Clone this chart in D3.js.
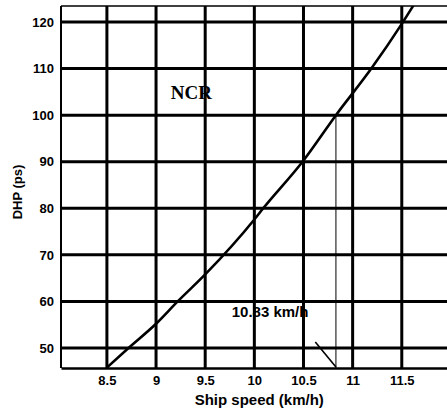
<!DOCTYPE html>
<html>
<head>
<meta charset="utf-8">
<script src="https://cdn.jsdelivr.net/npm/d3@7"></script>
<style>
  body { margin: 0; background: #fff; }
  svg { display: block; }
  .tick text { font-family: Arial, "Liberation Sans", sans-serif; font-weight: bold; font-size: 13px; fill: #000; }
</style>
</head>
<body>
<div id="chart"></div>
<script>
// values
var speed = [8.5, 8.72, 9.0, 9.22, 9.5, 10.0, 10.09, 10.49, 10.83, 11.19, 11.5, 11.62];
var dhp   = [45.8, 50, 55.2, 60, 65.8, 77.6, 80, 90, 100, 110, 119.6, 123.6];
var xTicks = [8.5, 9, 9.5, 10, 10.5, 11, 11.5];
var yTicks = [50, 60, 70, 80, 90, 100, 110, 120];
var markSpeed = 10.83, markDhp = 100;
var markLabel = '10.83 km/h';
var curveLabel = 'NCR';

var config = {
    width: 447,
    height: 411,
    left: 61,
    top: 6,
    bottom: 368
};

var svg = d3.select('#chart').append('svg')
    .attr('width', config.width)
    .attr('height', config.height);

var x = d3.scaleLinear().domain([8.033, 11.96]).range([config.left, config.width]);
var y = d3.scaleLinear().domain([45.7, 123.44]).range([config.bottom, config.top]);

svg.append('defs').append('clipPath').attr('id', 'plot')
    .append('rect')
    .attr('x', config.left).attr('y', config.top)
    .attr('width', config.width - config.left)
    .attr('height', config.bottom - config.top);

// texts sit under the grid, the grid covers parts of them as in the original
svg.append('text')
    .attr('x', x(9.15)).attr('y', y(103.5))
    .style('font-family', '"Times New Roman", "Liberation Serif", serif')
    .style('font-weight', 'bold')
    .style('font-size', '19px')
    .text(curveLabel);

svg.append('text')
    .attr('x', x(9.77)).attr('y', y(56.6))
    .style('font-family', 'Arial, "Liberation Sans", sans-serif')
    .style('font-weight', 'bold')
    .style('font-size', '15px')
    .text(markLabel);

// grid
var grid = svg.append('g').attr('stroke', '#000').attr('stroke-width', 3);
grid.selectAll('line.v')
    .data(xTicks)
    .enter().append('line')
    .attr('class', 'v')
    .attr('x1', function(d) { return x(d); })
    .attr('x2', function(d) { return x(d); })
    .attr('y1', config.top)
    .attr('y2', config.bottom);
grid.selectAll('line.h')
    .data(yTicks)
    .enter().append('line')
    .attr('class', 'h')
    .attr('x1', config.left)
    .attr('x2', config.width)
    .attr('y1', function(d) { return y(d); })
    .attr('y2', function(d) { return y(d); });

// frame
svg.append('line')
    .attr('x1', config.left).attr('x2', config.width)
    .attr('y1', config.top).attr('y2', config.top)
    .attr('stroke', '#000').attr('stroke-width', 1.5);
svg.append('line')
    .attr('x1', config.left).attr('x2', config.left)
    .attr('y1', config.top).attr('y2', config.bottom)
    .attr('stroke', '#000').attr('stroke-width', 2);

// axes (labels only, lines done above)
var xAxis = svg.append('g')
    .attr('transform', 'translate(0,' + config.bottom + ')')
    .call(d3.axisBottom(x).tickValues(xTicks).tickSize(0).tickPadding(8).tickFormat(d3.format('')));
xAxis.select('.domain').attr('stroke-width', 2.5);

var yAxis = svg.append('g')
    .attr('transform', 'translate(' + config.left + ',0)')
    .call(d3.axisLeft(y).tickValues(yTicks).tickSize(0).tickPadding(7));
yAxis.select('.domain').remove();

// curve
var line = d3.line()
    .x(function(d, i) { return x(speed[i]); })
    .y(function(d) { return y(d); })
    .curve(d3.curveMonotoneX);

svg.append('path')
    .datum(dhp)
    .attr('clip-path', 'url(#plot)')
    .attr('fill', 'none')
    .attr('stroke', '#000')
    .attr('stroke-width', 2.6)
    .attr('d', line);

// 10.83 marker: thin drop line and the pointer
svg.append('line')
    .attr('x1', x(markSpeed)).attr('x2', x(markSpeed))
    .attr('y1', y(markDhp)).attr('y2', config.bottom)
    .attr('stroke', '#000').attr('stroke-width', 1);
svg.append('line')
    .attr('x1', x(10.62)).attr('y1', y(51.3))
    .attr('x2', x(markSpeed)).attr('y2', config.bottom - 1)
    .attr('stroke', '#000').attr('stroke-width', 1.6);

// axis titles
svg.append('text')
    .attr('x', x(10.05)).attr('y', 405)
    .attr('text-anchor', 'middle')
    .style('font-family', 'Arial, "Liberation Sans", sans-serif')
    .style('font-weight', 'bold')
    .style('font-size', '15px')
    .text('Ship speed (km/h)');

svg.append('text')
    .attr('transform', 'translate(22,' + 192 + ') rotate(-90)')
    .attr('text-anchor', 'middle')
    .style('font-family', 'Arial, "Liberation Sans", sans-serif')
    .style('font-weight', 'bold')
    .style('font-size', '13px')
    .text('DHP (ps)');
</script>
</body>
</html>
